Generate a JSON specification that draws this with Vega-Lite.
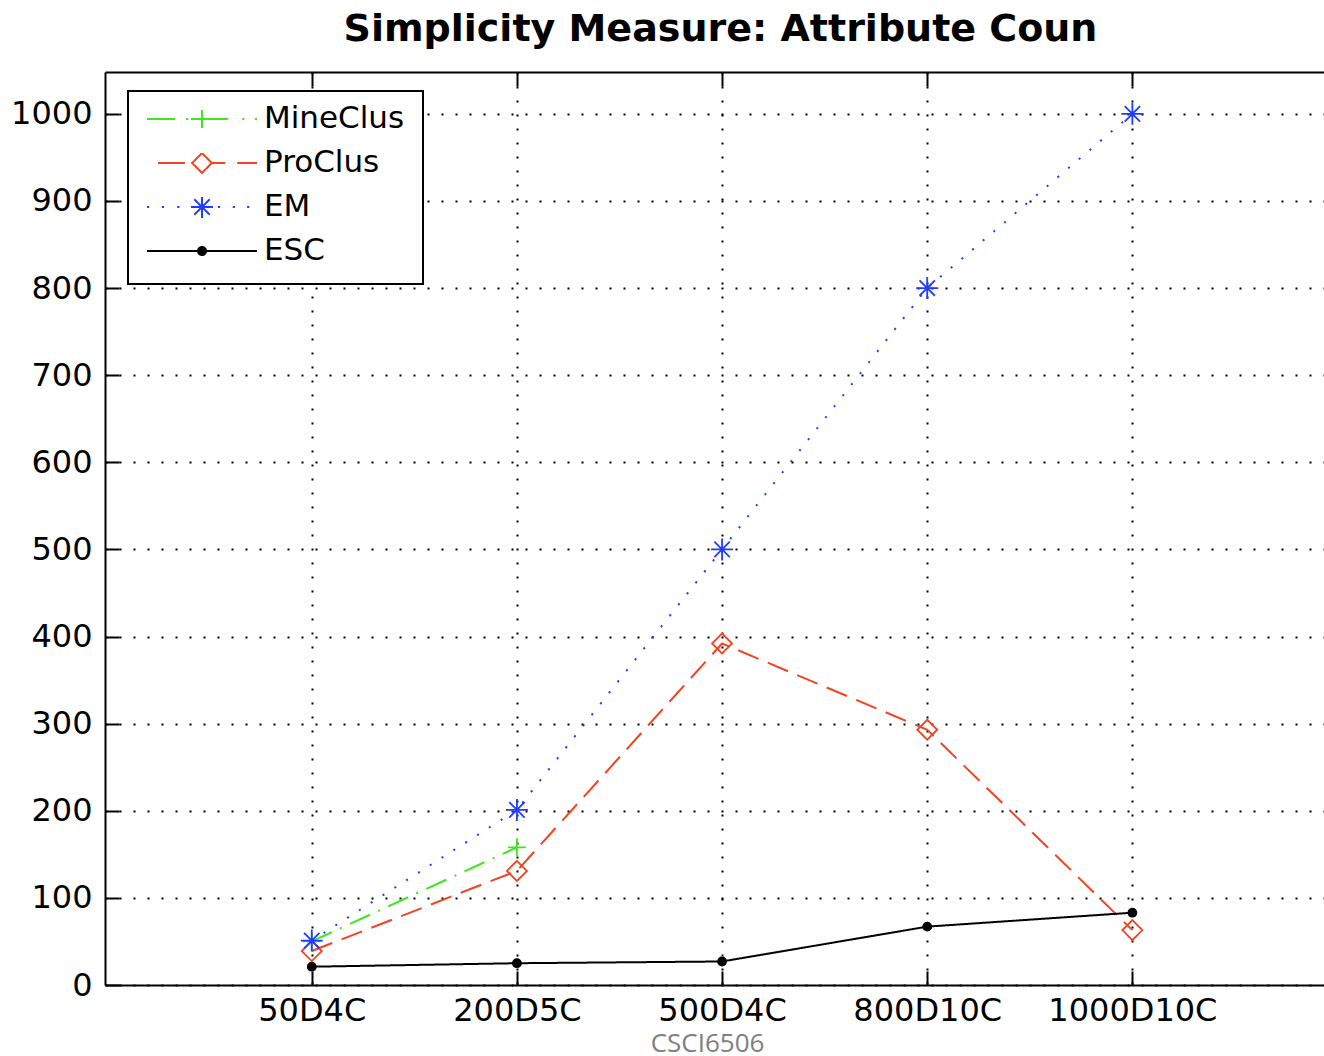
{
  "$schema": "https://vega.github.io/schema/vega-lite/v6.json",
  "width": 1219,
  "height": 913,
  "autosize": {"type": "none"},
  "padding": {"left": 105, "top": 72, "right": 0, "bottom": 71},
  "background": "white",
  "config": {"view": {"stroke": null}, "font": "DejaVu Sans"},
  "title": {
    "text": "Simplicity Measure: Attribute Coun",
    "anchor": "middle",
    "font": "DejaVu Sans",
    "fontSize": 38,
    "fontWeight": "bold",
    "color": "black",
    "baseline": "alphabetic",
    "offset": -8,
    "dx": 6
  },
  "data": {
    "values": [
      {"series": "MineClus", "dataset": "50D4C", "value": 50},
      {"series": "MineClus", "dataset": "200D5C", "value": 158},
      {"series": "ProClus", "dataset": "50D4C", "value": 39},
      {"series": "ProClus", "dataset": "200D5C", "value": 131},
      {"series": "ProClus", "dataset": "500D4C", "value": 392},
      {"series": "ProClus", "dataset": "800D10C", "value": 293},
      {"series": "ProClus", "dataset": "1000D10C", "value": 63},
      {"series": "EM", "dataset": "50D4C", "value": 51},
      {"series": "EM", "dataset": "200D5C", "value": 201},
      {"series": "EM", "dataset": "500D4C", "value": 500},
      {"series": "EM", "dataset": "800D10C", "value": 800},
      {"series": "EM", "dataset": "1000D10C", "value": 1000},
      {"series": "ESC", "dataset": "50D4C", "value": 21},
      {"series": "ESC", "dataset": "200D5C", "value": 25},
      {"series": "ESC", "dataset": "500D4C", "value": 27},
      {"series": "ESC", "dataset": "800D10C", "value": 67},
      {"series": "ESC", "dataset": "1000D10C", "value": 83}
    ]
  },
  "layer": [
    {
      "mark": {"type": "line", "strokeWidth": 2},
      "encoding": {
        "x": {
          "field": "dataset",
          "type": "ordinal",
          "sort": ["50D4C", "200D5C", "500D4C", "800D10C", "1000D10C"],
          "scale": {"type": "point", "domain": ["50D4C", "200D5C", "500D4C", "800D10C", "1000D10C"], "padding": 0.971, "align": 0.519},
          "axis": {
            "orient": "bottom",
            "title": "CSCI6506",
            "titleX": 602,
            "titleY": 66,
            "titleAlign": "center",
            "titleBaseline": "alphabetic",
            "titleFont": "Open Sans",
            "titleFontSize": 26,
            "titleFontWeight": "normal",
            "titleColor": "#808080",
            "labelAngle": 0,
            "labelFont": "DejaVu Sans",
            "labelFontSize": 32,
            "labelColor": "black",
            "labelPadding": 24,
            "tickSize": -14,
            "tickWidth": 2,
            "tickColor": "black",
            "domainColor": "black",
            "domainWidth": 2,
            "grid": true,
            "gridColor": "black",
            "gridDash": [2, 12],
            "gridWidth": 2,
            "gridOpacity": 1
          }
        },
        "y": {
          "field": "value",
          "type": "quantitative",
          "scale": {"domain": [0, 1048], "nice": false},
          "axis": {
            "orient": "left",
            "title": null,
            "format": "d",
            "values": [0, 100, 200, 300, 400, 500, 600, 700, 800, 900, 1000],
            "labelFont": "DejaVu Sans",
            "labelFontSize": 32,
            "labelColor": "black",
            "labelPadding": 27,
            "tickSize": -14,
            "tickWidth": 2,
            "tickColor": "black",
            "domainColor": "black",
            "domainWidth": 2,
            "grid": true,
            "gridColor": "black",
            "gridDash": [2, 12],
            "gridWidth": 2,
            "gridOpacity": 1
          }
        },
        "color": {
          "field": "series",
          "type": "nominal",
          "scale": {"domain": ["MineClus", "ProClus", "EM", "ESC"], "range": ["#3de81c", "#f5421f", "#1f3cff", "#000000"]},
          "legend": {
            "title": null,
            "orient": "none",
            "legendX": 23,
            "legendY": 19,
            "padding": 18,
            "clipHeight": 20,
            "rowPadding": 13,
            "labelOffset": 6,
            "symbolOffset": 0,
            "symbolSize": 12100,
            "symbolStrokeWidth": 2,
            "symbolDash": [1, 0],
            "labelFont": "DejaVu Sans",
            "labelFontSize": 31,
            "labelColor": "black",
            "strokeColor": "black",
            "fillColor": "white",
            "encode": {
              "legend": {"update": {"strokeWidth": {"value": 2}}},
              "symbols": {
                "update": {
                  "shape": {"signal": "datum.value === 'MineClus' ? 'M-1,0L-0.49,0M-0.29,0L-0.25,0M-0.2,0L0.47,0M0.73,0L0.77,0M0.96,0L1,0M0,-0.164L0,0.164' : datum.value === 'ProClus' ? 'M-0.8,0L-0.31,0M0.18,0L0.42,0M0.64,0L1,0M0,-0.18L0.18,0L0,0.18L-0.18,0Z' : datum.value === 'EM' ? 'M-1,0L-0.96,0M-0.73,0L-0.69,0M-0.45,0L-0.41,0M0.29,0L0.33,0M0.56,0L0.6,0M0.82,0L0.86,0M-0.2,0L0.2,0M0,-0.2L0,0.2M-0.14,-0.14L0.14,0.14M-0.14,0.14L0.14,-0.14' : 'M-1,0L1,0M-0.073,0A0.073,0.073,0,1,0,0.073,0A0.073,0.073,0,1,0,-0.073,0Z'"},
                  "size": {"value": 12100},
                  "fill": {"signal": "datum.value === 'ESC' ? 'black' : 'transparent'"},
                  "strokeDash": {"value": [1, 0]},
                  "strokeWidth": {"value": 2},
                  "opacity": {"value": 1}
                }
              }
            }
          }
        },
        "strokeDash": {
          "condition": [
            {"test": "datum.series === 'MineClus'", "value": [22, 9, 2, 9]},
            {"test": "datum.series === 'ProClus'", "value": [22, 10]},
            {"test": "datum.series === 'EM'", "value": [2, 12]}
          ],
          "value": [1, 0]
        }
      }
    },
    {
      "mark": {"type": "point", "opacity": 1, "strokeWidth": 1.8},
      "encoding": {
        "x": {
          "field": "dataset",
          "type": "ordinal",
          "sort": ["50D4C", "200D5C", "500D4C", "800D10C", "1000D10C"],
          "axis": {
            "orient": "top",
            "title": null,
            "labels": false,
            "grid": false,
            "tickSize": -14,
            "tickWidth": 2,
            "tickColor": "black",
            "domainColor": "black",
            "domainWidth": 2
          }
        },
        "y": {
          "field": "value",
          "type": "quantitative"
        },
        "shape": {
          "condition": [
            {"test": "datum.series === 'MineClus'", "value": "M-1,0L1,0M0,-1L0,1"},
            {"test": "datum.series === 'ProClus'", "value": "M0,-1L1,0L0,1L-1,0Z"},
            {"test": "datum.series === 'EM'", "value": "M-1,0L1,0M0,-1L0,1M-0.7,-0.7L0.7,0.7M-0.7,0.7L0.7,-0.7"}
          ],
          "value": "circle"
        },
        "size": {
          "condition": [
            {"test": "datum.series === 'MineClus'", "value": 324},
            {"test": "datum.series === 'ProClus'", "value": 400},
            {"test": "datum.series === 'EM'", "value": 484}
          ],
          "value": 64
        },
        "stroke": {
          "condition": [
            {"test": "datum.series === 'MineClus'", "value": "#3de81c"},
            {"test": "datum.series === 'ProClus'", "value": "#f5421f"},
            {"test": "datum.series === 'EM'", "value": "#1f3cff"}
          ],
          "value": "#000000"
        },
        "fill": {
          "condition": {"test": "datum.series === 'ESC'", "value": "#000000"},
          "value": "transparent"
        }
      }
    }
  ],
  "resolve": {"axis": {"x": "independent"}}
}
